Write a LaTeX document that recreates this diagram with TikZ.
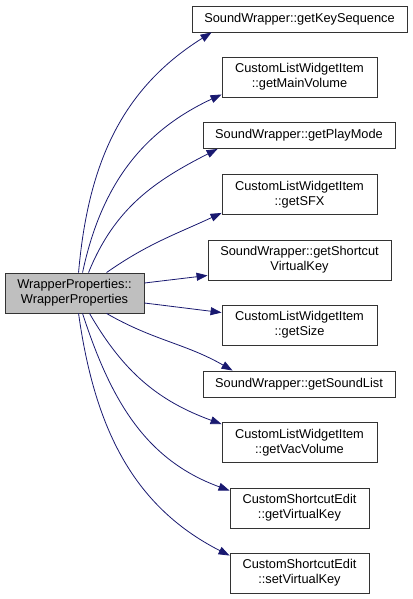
\documentclass[tikz,border=0pt]{standalone}
\usepackage{fontspec}
\setmainfont{Liberation Sans}
\usepackage{tikz}
\usetikzlibrary{arrows.meta}

\definecolor{edgeblue}{HTML}{191970}
\definecolor{callergray}{HTML}{BFBFBF}

\tikzset{
    fnode/.style={draw=black!80, line width=0.9pt, fill=white, align=center,
        inner sep=0pt, minimum height=26pt, font=\fontsize{12.8}{15}\selectfont},
    twoline/.style={minimum height=40pt},
    call/.style={->, draw=edgeblue, line width=0.8pt},
}

\begin{document}
\begin{tikzpicture}[x=1pt, y=1pt, >={Triangle[length=11pt, width=8pt, fill=edgeblue]}]
    \useasboundingbox (0,0) rectangle (412,-599);

    % Aufrufer
    \node[fnode, twoline, fill=callergray, minimum width=139pt] (caller) at (74.5,-293)
        {WrapperProperties::\\WrapperProperties};

    % aufgerufene Funktionen
    \node[fnode, minimum width=215pt] (keyseq) at (299.5,-19) {SoundWrapper::getKeySequence};
    \node[fnode, twoline, minimum width=155pt] (mainvol) at (299.5,-77) {CustomListWidgetItem\\::getMainVolume};
    \node[fnode, minimum width=192pt] (playmode) at (299,-135.5) {SoundWrapper::getPlayMode};
    \node[fnode, twoline, minimum width=155pt] (sfx) at (299.5,-194.5) {CustomListWidgetItem\\::getSFX};
    \node[fnode, twoline, minimum width=183pt] (shortcut) at (299.5,-260) {SoundWrapper::getShortcut\\VirtualKey};
    \node[fnode, twoline, minimum width=155pt] (size) at (299.5,-325) {CustomListWidgetItem\\::getSize};
    \node[fnode, minimum width=192pt] (soundlist) at (299,-384) {SoundWrapper::getSoundList};
    \node[fnode, twoline, minimum width=155pt] (vacvol) at (299.5,-442.5) {CustomListWidgetItem\\::getVacVolume};
    \node[fnode, twoline, minimum width=139pt] (getvk) at (299.5,-508) {CustomShortcutEdit\\::getVirtualKey};
    \node[fnode, twoline, minimum width=139pt] (setvk) at (299.5,-573) {CustomShortcutEdit\\::setVirtualKey};

    % Aufrufe nach oben
    \draw[call] ([xshift=74pt]caller.north west) to[out=85, in=212] ([xshift=20pt]keyseq.south west);
    \draw[call] ([xshift=78pt]caller.north west) to[out=78, in=205] ([yshift=3pt]mainvol.south west);
    \draw[call] ([xshift=84pt]caller.north west) to[out=68, in=207] ([xshift=15pt]playmode.south west);
    \draw[call] ([xshift=102pt]caller.north west) to[out=35, in=205] ([yshift=2pt]sfx.south west);

    % Aufrufe zur Seite
    \draw[call] ([yshift=10pt]caller.east) -- ([yshift=5pt]shortcut.south west);
    \draw[call] ([yshift=-10pt]caller.east) -- ([yshift=-8pt]size.north west);

    % Aufrufe nach unten
    \draw[call] ([xshift=102pt]caller.south west) to[out=-30, in=150] ([xshift=30pt]soundlist.north west);
    \draw[call] ([xshift=85pt]caller.south west) to[out=-60, in=160] ([yshift=-2pt]vacvol.north west);
    \draw[call] ([xshift=78pt]caller.south west) to[out=-72, in=160] ([yshift=-3pt]getvk.north west);
    \draw[call] ([xshift=74pt]caller.south west) to[out=-82, in=153] ([yshift=-3pt]setvk.north west);
\end{tikzpicture}
\end{document}
